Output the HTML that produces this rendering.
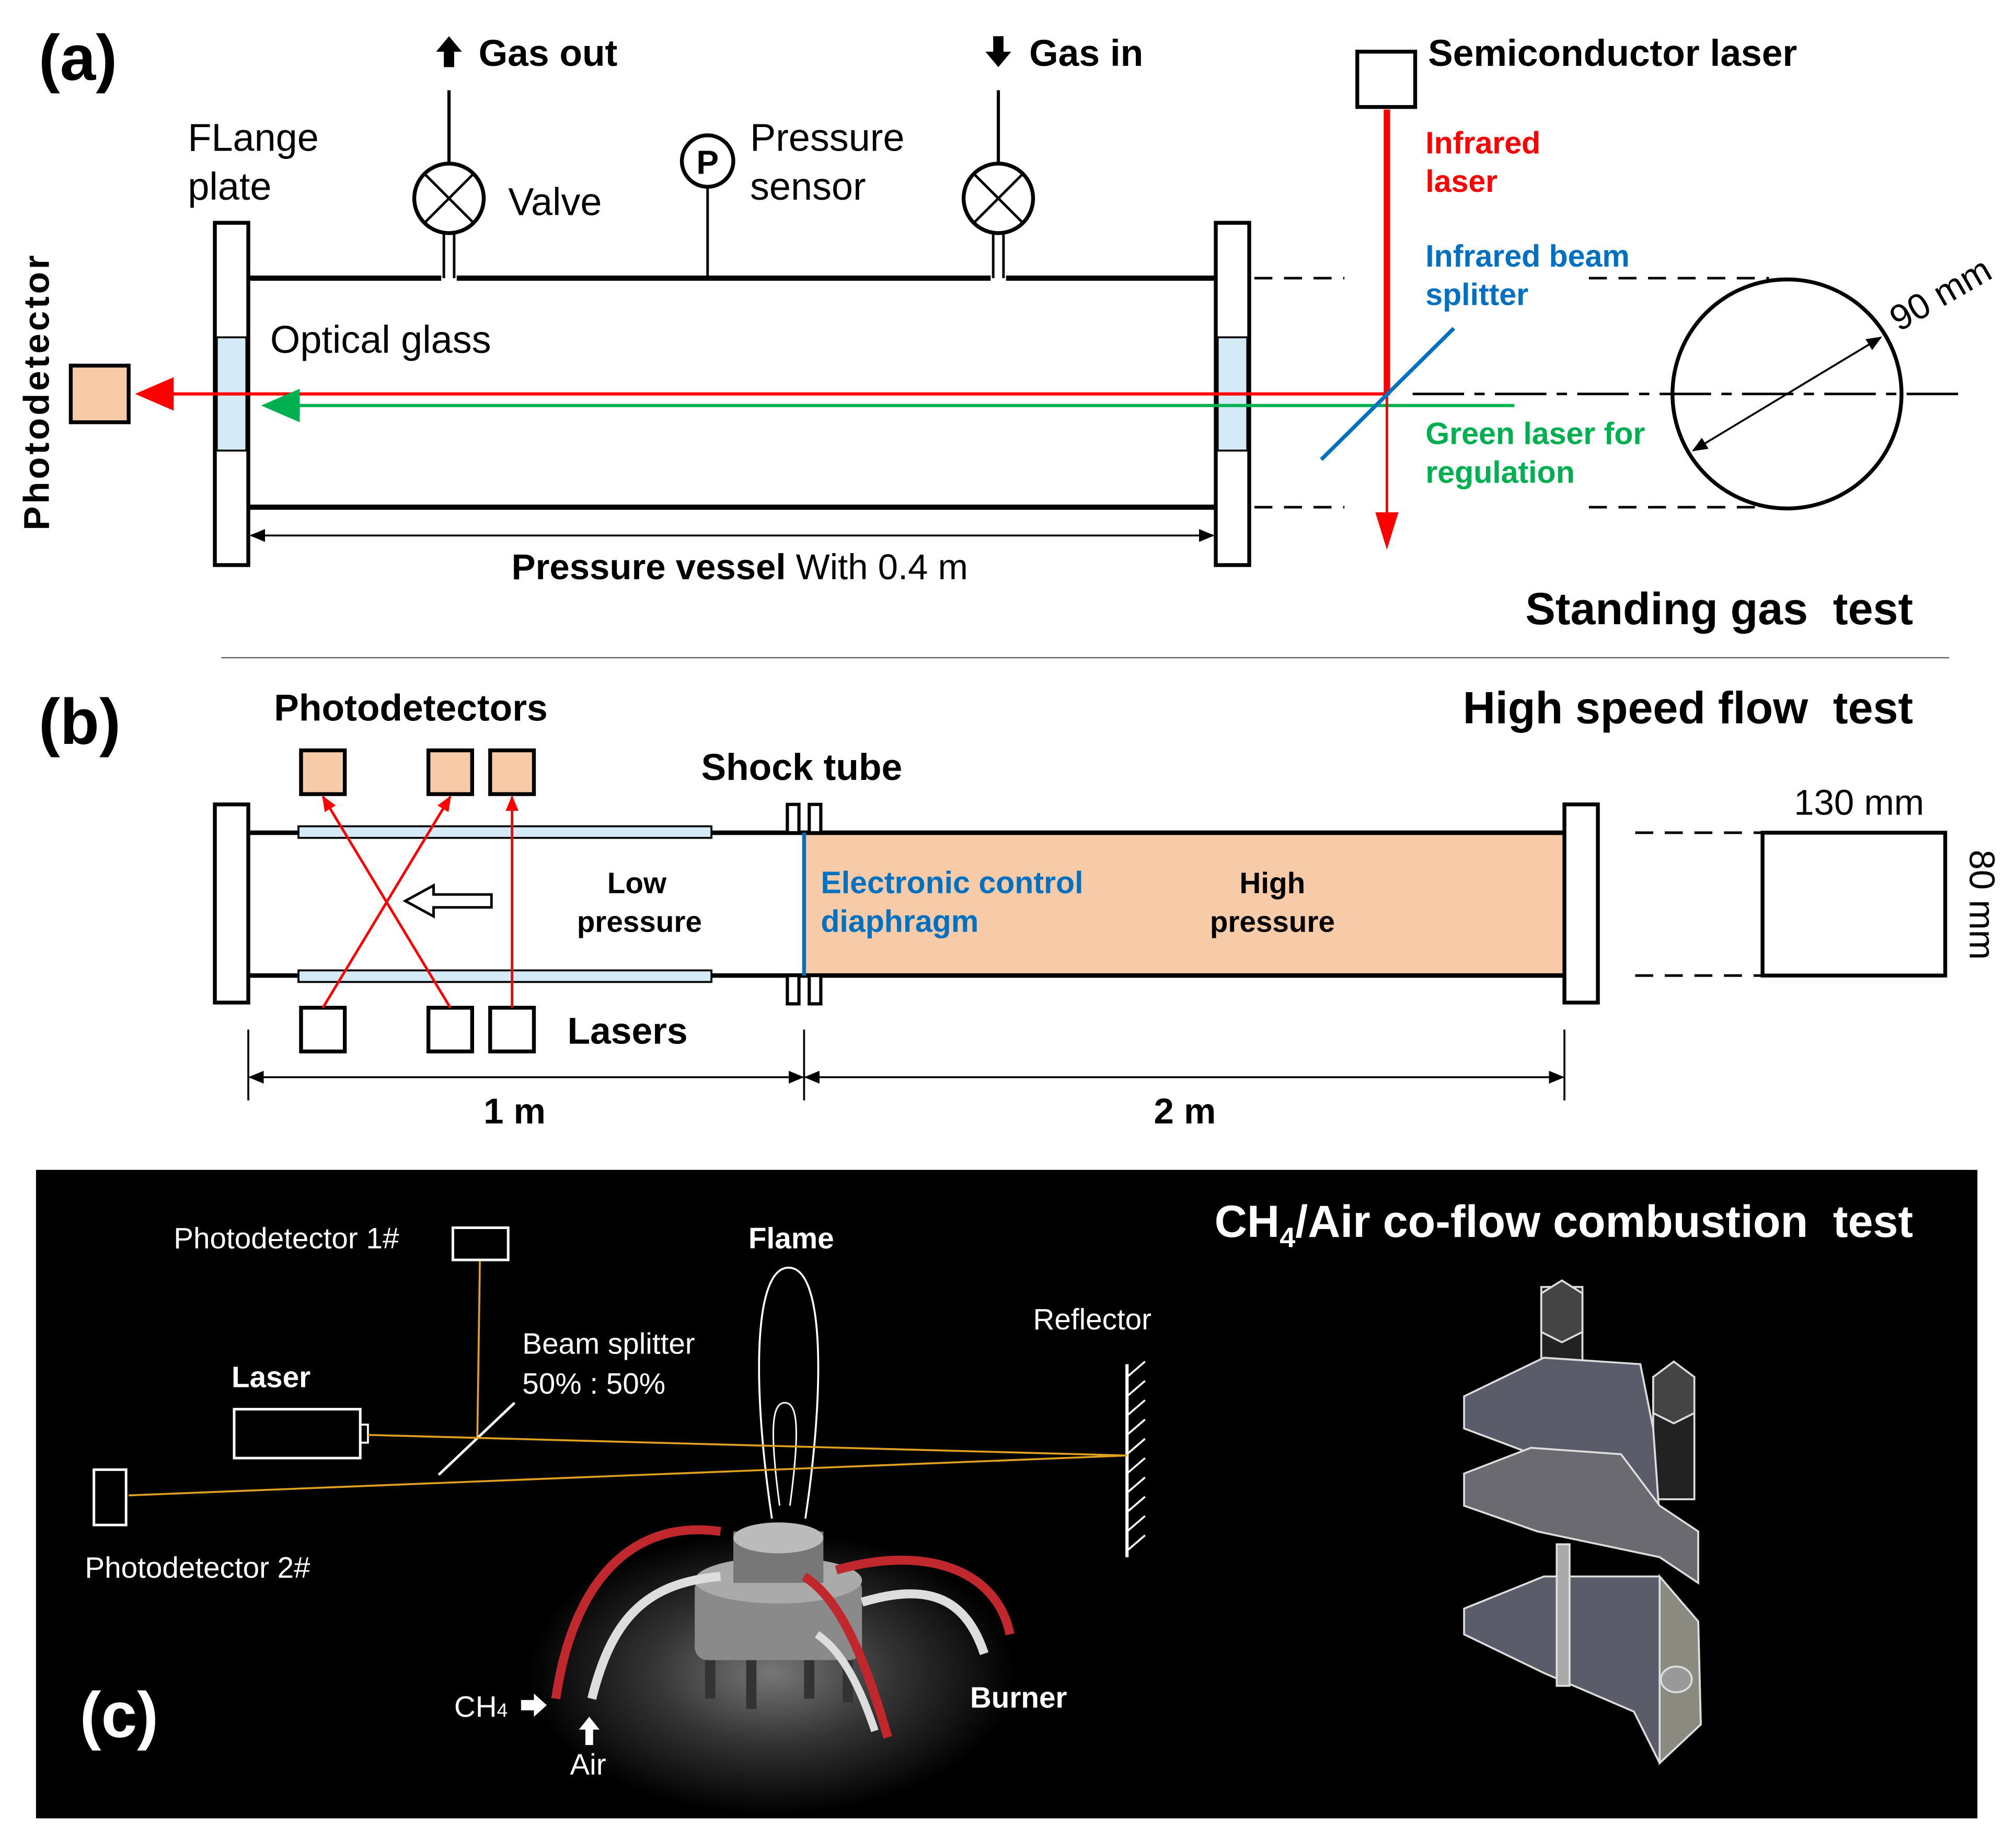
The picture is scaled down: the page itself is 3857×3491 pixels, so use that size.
<!DOCTYPE html>
<html><head><meta charset="utf-8"><style>
html,body{margin:0;padding:0;background:#fff;}
svg{display:block;}
text{font-family:"Liberation Sans",Arial,sans-serif;white-space:pre;}
</style></head><body>
<svg width="3857" height="3491" viewBox="0 0 1567 1418" xmlns="http://www.w3.org/2000/svg">
<defs>
<marker id="ar" markerWidth="12" markerHeight="10" refX="11" refY="5" orient="auto-start-reverse" markerUnits="userSpaceOnUse"><path d="M0,0 L12,5 L0,10 z" fill="#000"/></marker>
<marker id="arr" markerWidth="12" markerHeight="10" refX="11" refY="5" orient="auto" markerUnits="userSpaceOnUse"><path d="M0,0 L12,5 L0,10 z" fill="#f00"/></marker>
<radialGradient id="glow" cx="0.5" cy="0.5" r="0.5"><stop offset="0" stop-color="#777"/><stop offset="0.5" stop-color="#333"/><stop offset="1" stop-color="#000"/></radialGradient>
<clipPath id="cc"><rect x="28" y="909" width="1509" height="504"/></clipPath>
</defs>
<rect width="1567" height="1418" fill="#fff"/>

<!-- (a) -->
<text x="30" y="62" font-size="50" font-weight="bold">(a)</text>
<path d="M349,28 l-10,12 h6 v12 h8 v-12 h6 z" fill="#000"/>
<text x="372" y="51" font-size="29" font-weight="bold">Gas out</text>
<line x1="349" y1="70" x2="349" y2="127" stroke="#000" stroke-width="2.5"/>
<circle cx="349" cy="154" r="27" fill="#fff" stroke="#000" stroke-width="3"/>
<path d="M330,135 L368,173 M368,135 L330,173" stroke="#000" stroke-width="2"/>
<line x1="345" y1="181" x2="345" y2="216" stroke="#000" stroke-width="2"/>
<line x1="353" y1="181" x2="353" y2="216" stroke="#000" stroke-width="2"/>
<text x="395" y="167" font-size="30">Valve</text>
<path d="M776,52 l-10,-12 h6 v-12 h8 v12 h6 z" fill="#000"/>
<text x="800" y="51" font-size="29" font-weight="bold">Gas in</text>
<line x1="776" y1="70" x2="776" y2="127" stroke="#000" stroke-width="2.5"/>
<circle cx="776" cy="154" r="27" fill="#fff" stroke="#000" stroke-width="3"/>
<path d="M757,135 L795,173 M795,135 L757,173" stroke="#000" stroke-width="2"/>
<line x1="772" y1="181" x2="772" y2="216" stroke="#000" stroke-width="2"/>
<line x1="780" y1="181" x2="780" y2="216" stroke="#000" stroke-width="2"/>
<circle cx="550" cy="125" r="20" fill="#fff" stroke="#000" stroke-width="3"/>
<text x="550" y="135" font-size="26" font-weight="bold" text-anchor="middle">P</text>
<line x1="550" y1="145" x2="550" y2="216" stroke="#000" stroke-width="2"/>
<text x="583" y="117" font-size="30">Pressure</text>
<text x="583" y="155" font-size="30">sensor</text>
<text x="146" y="117" font-size="30">FLange</text>
<text x="146" y="155" font-size="30">plate</text>
<line x1="193" y1="216" x2="343" y2="216" stroke="#000" stroke-width="4"/>
<line x1="355" y1="216" x2="770" y2="216" stroke="#000" stroke-width="4"/>
<line x1="782" y1="216" x2="945" y2="216" stroke="#000" stroke-width="4"/>
<line x1="193" y1="394" x2="945" y2="394" stroke="#000" stroke-width="4"/>
<rect x="167" y="173" width="26" height="266" fill="#fff" stroke="#000" stroke-width="3"/>
<rect x="168.5" y="262" width="23" height="88" fill="#d4eaf7" stroke="#000" stroke-width="1.5"/>
<rect x="945" y="173" width="26" height="266" fill="#fff" stroke="#000" stroke-width="3"/>
<rect x="946.5" y="262" width="23" height="88" fill="#d4eaf7" stroke="#000" stroke-width="1.5"/>
<text x="210" y="274" font-size="30">Optical glass</text>
<text transform="translate(38,412) rotate(-90)" font-size="28" font-weight="bold" letter-spacing="2">Photodetector</text>
<rect x="55" y="284" width="45" height="44" fill="#f8cba8" stroke="#000" stroke-width="3"/>
<line x1="1078" y1="306" x2="130" y2="306" stroke="#f00" stroke-width="2.5"/>
<path d="M105,306 L135,293 L135,319 z" fill="#f00"/>
<line x1="1177" y1="315" x2="230" y2="315" stroke="#00b050" stroke-width="2.5"/>
<path d="M203,315 L233,302 L233,328 z" fill="#00b050"/>
<rect x="1055" y="40" width="45" height="43" fill="#fff" stroke="#000" stroke-width="3"/>
<line x1="1078" y1="85" x2="1078" y2="307" stroke="#f00" stroke-width="5"/>
<line x1="1078" y1="306" x2="1078" y2="402" stroke="#f00" stroke-width="2"/>
<path d="M1078,427 L1069,398 L1087,398 z" fill="#f00"/>
<line x1="1130" y1="255" x2="1027" y2="357" stroke="#0070c0" stroke-width="3"/>
<text x="1108" y="119" font-size="24" font-weight="bold" fill="#f00">Infrared</text>
<text x="1108" y="149" font-size="24" font-weight="bold" fill="#f00">laser</text>
<text x="1108" y="207" font-size="24" font-weight="bold" fill="#0070c0">Infrared beam</text>
<text x="1108" y="237" font-size="24" font-weight="bold" fill="#0070c0">splitter</text>
<text x="1108" y="345" font-size="24" font-weight="bold" fill="#00b050">Green laser for</text>
<text x="1108" y="375" font-size="24" font-weight="bold" fill="#00b050">regulation</text>
<text x="1110" y="51" font-size="29" font-weight="bold">Semiconductor laser</text>
<g stroke="#000" stroke-width="2" stroke-dasharray="14,9">
<line x1="975" y1="216" x2="1045" y2="216"/><line x1="1235" y1="216" x2="1375" y2="216"/>
<line x1="975" y1="394" x2="1045" y2="394"/><line x1="1235" y1="394" x2="1375" y2="394"/>
</g>
<line x1="1098" y1="306" x2="1525" y2="306" stroke="#000" stroke-width="2" stroke-dasharray="40,8,8,8"/>
<circle cx="1389" cy="306" r="89" fill="none" stroke="#000" stroke-width="3"/>
<line x1="1316" y1="350" x2="1462" y2="262" stroke="#000" stroke-width="1.5" marker-end="url(#ar)" marker-start="url(#ar)"/>
<text transform="translate(1476,258) rotate(-30)" font-size="28">90 mm</text>
<line x1="195" y1="416" x2="943" y2="416" stroke="#000" stroke-width="1.5" marker-end="url(#ar)" marker-start="url(#ar)"/>
<text x="575" y="450" font-size="28" text-anchor="middle"><tspan font-weight="bold">Pressure vessel</tspan> With 0.4 m</text>
<text x="1487" y="485" font-size="35" font-weight="bold" text-anchor="end">Standing gas  test</text>
<line x1="172" y1="511" x2="1515" y2="511" stroke="#666" stroke-width="1"/>

<!-- (b) -->
<text x="30" y="578" font-size="50" font-weight="bold">(b)</text>
<text x="213" y="560" font-size="29" font-weight="bold">Photodetectors</text>
<text x="1487" y="562" font-size="35" font-weight="bold" text-anchor="end">High speed flow  test</text>
<text x="545" y="606" font-size="29" font-weight="bold">Shock tube</text>
<rect x="625" y="647" width="591" height="111" fill="#f8cba8"/>
<line x1="193" y1="647" x2="1216" y2="647" stroke="#000" stroke-width="3.5"/>
<line x1="193" y1="758" x2="1216" y2="758" stroke="#000" stroke-width="3.5"/>
<rect x="232" y="642" width="321" height="9" fill="#d4eaf7" stroke="#000" stroke-width="1.5"/>
<rect x="232" y="754" width="321" height="9" fill="#d4eaf7" stroke="#000" stroke-width="1.5"/>
<rect x="167" y="625" width="26" height="154" fill="#fff" stroke="#000" stroke-width="3"/>
<rect x="1216" y="625" width="26" height="154" fill="#fff" stroke="#000" stroke-width="3"/>
<g fill="#fff" stroke="#000" stroke-width="2.5">
<rect x="612" y="625" width="9" height="22"/><rect x="629" y="625" width="9" height="22"/>
<rect x="612" y="758" width="9" height="22"/><rect x="629" y="758" width="9" height="22"/>
</g>
<line x1="625" y1="647" x2="625" y2="758" stroke="#0070c0" stroke-width="3"/>
<g fill="#f8cba8" stroke="#000" stroke-width="3">
<rect x="234" y="583" width="34" height="34"/><rect x="333" y="583" width="34" height="34"/><rect x="381" y="583" width="34" height="34"/>
</g>
<g fill="#fff" stroke="#000" stroke-width="3">
<rect x="234" y="783" width="34" height="34"/><rect x="333" y="783" width="34" height="34"/><rect x="381" y="783" width="34" height="34"/>
</g>
<g stroke="#f00" stroke-width="2" marker-end="url(#arr)">
<line x1="251" y1="783" x2="350" y2="619"/><line x1="350" y1="783" x2="251" y2="619"/><line x1="398" y1="783" x2="398" y2="619"/>
</g>
<path d="M382,695 h-45 v-7 l-22,12 l22,12 v-7 h45 z" fill="#fff" stroke="#000" stroke-width="2"/>
<text x="495" y="694" font-size="23" font-weight="bold" text-anchor="middle">Low</text>
<text x="497" y="724" font-size="23" font-weight="bold" text-anchor="middle">pressure</text>
<text x="638" y="694" font-size="24" font-weight="bold" fill="#0070c0">Electronic control</text>
<text x="638" y="724" font-size="24" font-weight="bold" fill="#0070c0">diaphragm</text>
<text x="989" y="694" font-size="23" font-weight="bold" text-anchor="middle">High</text>
<text x="989" y="724" font-size="23" font-weight="bold" text-anchor="middle">pressure</text>
<text x="441" y="811" font-size="29" font-weight="bold">Lasers</text>
<g stroke="#000" stroke-width="1.5">
<line x1="193" y1="800" x2="193" y2="855"/><line x1="625" y1="800" x2="625" y2="855"/><line x1="1216" y1="800" x2="1216" y2="855"/>
<line x1="194" y1="837" x2="624" y2="837" marker-end="url(#ar)" marker-start="url(#ar)"/>
<line x1="626" y1="837" x2="1215" y2="837" marker-end="url(#ar)" marker-start="url(#ar)"/>
</g>
<text x="400" y="873" font-size="28" font-weight="bold" text-anchor="middle">1 m</text>
<text x="921" y="873" font-size="28" font-weight="bold" text-anchor="middle">2 m</text>
<g stroke="#000" stroke-width="2" stroke-dasharray="14,9">
<line x1="1271" y1="647" x2="1370" y2="647"/><line x1="1271" y1="758" x2="1370" y2="758"/>
</g>
<rect x="1370" y="647" width="142" height="111" fill="#fff" stroke="#000" stroke-width="3"/>
<text x="1445" y="633" font-size="28" text-anchor="middle">130 mm</text>
<text transform="translate(1531,703) rotate(90)" font-size="28" text-anchor="middle">80 mm</text>

<!-- (c) -->
<rect x="28" y="909" width="1509" height="504" fill="#000"/>
<g clip-path="url(#cc)">
<ellipse cx="600" cy="1300" rx="190" ry="110" fill="url(#glow)"/>
</g>
<text x="1487" y="961" font-size="35" font-weight="bold" fill="#fff" text-anchor="end">CH<tspan font-size="22" dy="8">4</tspan><tspan dy="-8">/Air co-flow combustion  test</tspan></text>
<text x="135" y="970" font-size="23" fill="#fff">Photodetector 1#</text>
<rect x="352" y="954" width="43" height="25" fill="none" stroke="#fff" stroke-width="2"/>
<line x1="373" y1="980" x2="371" y2="1118" stroke="#e0a020" stroke-width="1.5"/>
<text x="615" y="970" font-size="23" font-weight="bold" fill="#fff" text-anchor="middle">Flame</text>
<path d="M600,1180 C585,1080 585,985 613,985 C641,985 641,1080 626,1180" fill="none" stroke="#fff" stroke-width="1.5"/>
<path d="M606,1170 C598,1110 600,1090 610,1090 C620,1090 622,1110 614,1170" fill="none" stroke="#fff" stroke-width="1.2"/>
<text x="803" y="1033" font-size="23" fill="#fff">Reflector</text>
<line x1="876" y1="1060" x2="876" y2="1210" stroke="#fff" stroke-width="2.5"/>
<path d="M876,1070 l14,-12 M876,1085 l14,-12 M876,1100 l14,-12 M876,1115 l14,-12 M876,1130 l14,-12 M876,1145 l14,-12 M876,1160 l14,-12 M876,1175 l14,-12 M876,1190 l14,-12 M876,1205 l14,-12" stroke="#fff" stroke-width="1.5"/>
<text x="406" y="1052" font-size="23" fill="#fff">Beam splitter</text>
<text x="406" y="1083" font-size="23" fill="#fff">50% : 50%</text>
<line x1="400" y1="1090" x2="341" y2="1146" stroke="#fff" stroke-width="2"/>
<text x="180" y="1078" font-size="23" font-weight="bold" fill="#fff">Laser</text>
<rect x="182" y="1095" width="98" height="38" fill="none" stroke="#fff" stroke-width="2"/>
<rect x="280" y="1107" width="6" height="14" fill="none" stroke="#fff" stroke-width="1.5"/>
<line x1="286" y1="1115" x2="876" y2="1131" stroke="#e0a020" stroke-width="1.5"/>
<line x1="100" y1="1162" x2="876" y2="1131" stroke="#e0a020" stroke-width="1.5"/>
<rect x="73" y="1142" width="25" height="43" fill="none" stroke="#fff" stroke-width="2"/>
<text x="66" y="1226" font-size="23" fill="#fff">Photodetector 2#</text>
<g>
<rect x="548" y="1250" width="8" height="70" fill="#333"/><rect x="580" y="1260" width="8" height="68" fill="#333"/><rect x="625" y="1250" width="8" height="70" fill="#333"/><rect x="655" y="1255" width="8" height="68" fill="#333"/>
<rect x="540" y="1225" width="130" height="65" rx="10" fill="#8a8a8a"/>
<ellipse cx="605" cy="1228" rx="65" ry="18" fill="#aaa"/>
<rect x="570" y="1190" width="70" height="40" fill="#777"/>
<ellipse cx="605" cy="1195" rx="35" ry="12" fill="#bbb"/>
<path d="M432,1320 C445,1230 490,1180 560,1190" fill="none" stroke="#c0282e" stroke-width="7"/>
<path d="M460,1320 C475,1260 500,1230 560,1225" fill="none" stroke="#ddd" stroke-width="7"/>
<path d="M690,1350 C670,1280 650,1240 625,1225" fill="none" stroke="#c0282e" stroke-width="7"/>
<path d="M680,1345 C665,1300 650,1280 635,1270" fill="none" stroke="#ddd" stroke-width="6"/>
<path d="M785,1270 C775,1220 720,1200 650,1220" fill="none" stroke="#c0282e" stroke-width="7"/>
<path d="M765,1285 C750,1240 720,1230 670,1245" fill="none" stroke="#ddd" stroke-width="7"/>
</g>
<text x="754" y="1327" font-size="23" font-weight="bold" fill="#fff">Burner</text>
<text x="353" y="1334" font-size="23" fill="#fff">CH<tspan font-size="15">4</tspan></text>
<path d="M425,1325 l-10,-9 v5 h-10 v8 h10 v5 z" fill="#fff"/>
<path d="M458,1334 l-8,10 h5 v12 h6 v-12 h5 z" fill="#fff"/>
<text x="443" y="1379" font-size="23" fill="#fff">Air</text>
<text x="62" y="1350" font-size="50" font-weight="bold" fill="#fff">(c)</text>
<g stroke="#ddd" stroke-width="1.5">
<rect x="1198" y="1000" width="32" height="80" fill="#222"/>
<path d="M1198,1005 l16,-10 l16,10 v30 l-16,8 l-16,-8 z" fill="#444"/>
<rect x="1285" y="1070" width="32" height="95" fill="#222"/>
<path d="M1285,1070 l16,-12 l16,12 v28 l-16,8 l-16,-8 z" fill="#444"/>
<path d="M1138,1085 L1200,1055 L1275,1060 L1285,1110 L1290,1180 L1245,1150 L1138,1110 z" fill="#5a5c6a"/>
<path d="M1138,1145 L1190,1125 L1260,1130 L1290,1170 L1320,1190 L1320,1230 L1290,1210 L1195,1190 L1138,1170 z" fill="#6a6a70"/>
<path d="M1138,1250 L1200,1225 L1290,1225 L1320,1260 L1322,1340 L1290,1370 L1270,1330 L1200,1300 L1138,1270 z" fill="#5a5c6a"/>
<path d="M1290,1225 L1320,1260 L1322,1340 L1290,1370 z" fill="#8a8a80"/>
<ellipse cx="1303" cy="1305" rx="12" ry="10" fill="#999"/>
<rect x="1210" y="1200" width="10" height="110" fill="#aaa"/>
</g>
</svg>
</body></html>
